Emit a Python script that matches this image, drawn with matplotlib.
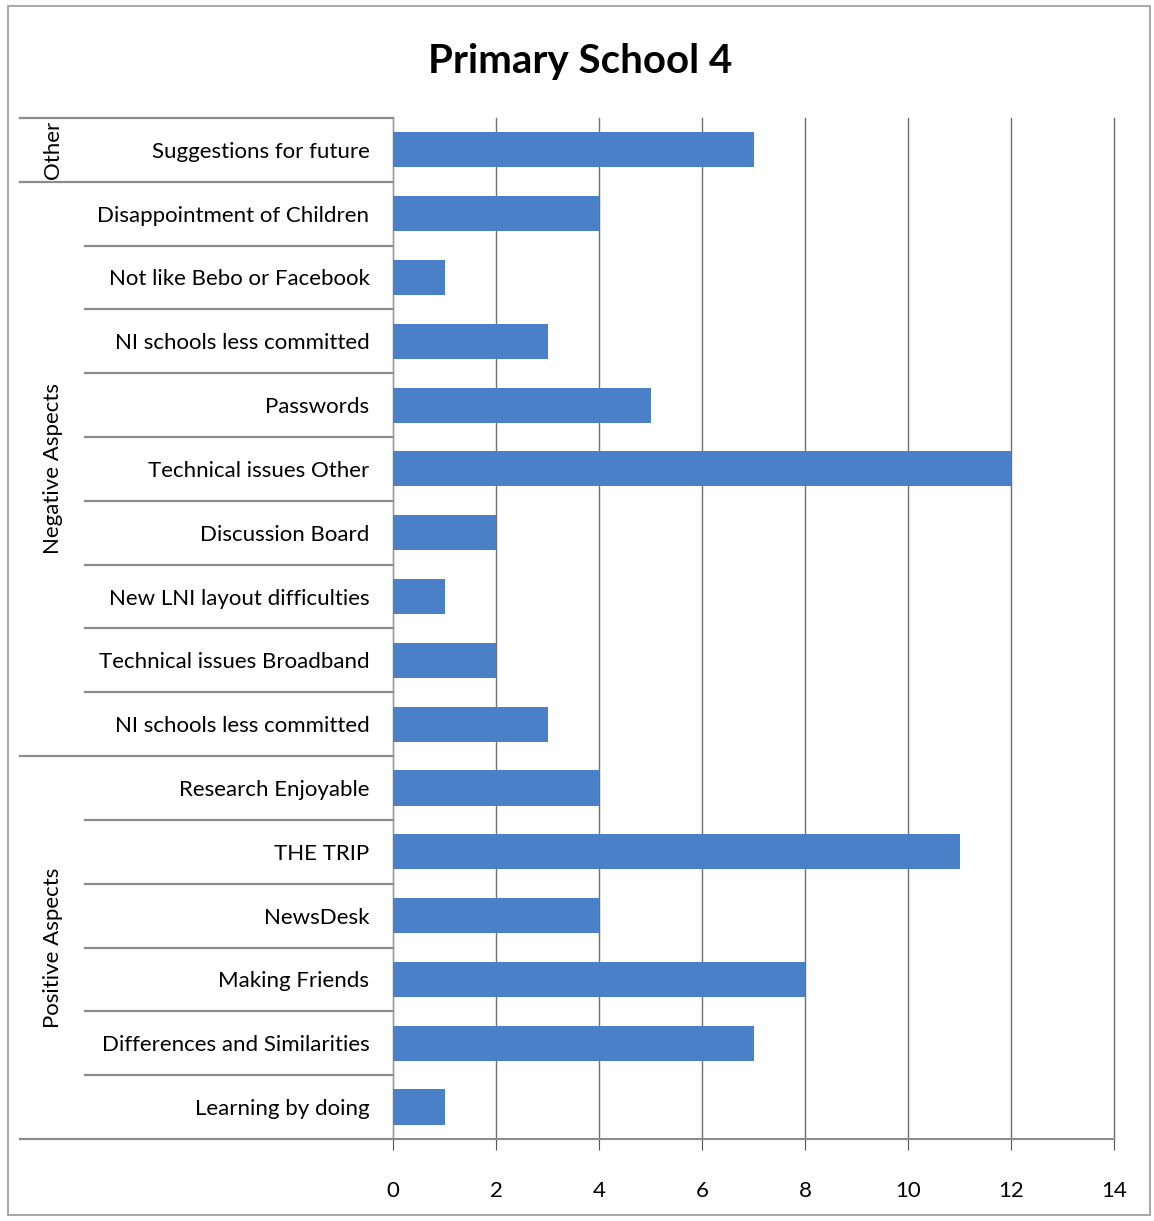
import matplotlib
matplotlib.use("Agg")
import matplotlib.pyplot as plt
import matplotlib.transforms as mtransforms
from matplotlib.patches import Rectangle

plt.rcParams["font.family"] = ["Lato", "DejaVu Sans"]

# data, top to bottom as in the chart
categories = [
    "Suggestions for future",
    "Disappointment of Children",
    "Not like Bebo or Facebook",
    "NI schools less committed",
    "Passwords",
    "Technical issues Other",
    "Discussion Board",
    "New LNI layout difficulties",
    "Technical issues Broadband",
    "NI schools less committed",
    "Research Enjoyable",
    "THE TRIP",
    "NewsDesk",
    "Making Friends",
    "Differences and Similarities",
    "Learning by doing",
]
values = [7, 4, 1, 3, 5, 12, 2, 1, 2, 3, 4, 11, 4, 8, 7, 1]
groups = ["Other", "Negative Aspects", "Positive Aspects"]
group_sizes = [1, 9, 6]
x_ticks = [0, 2, 4, 6, 8, 10, 12, 14]

bar_color = "#4a80c8"
line_color = "#8c8c8c"

fig = plt.figure(figsize=(11.54, 12.21), dpi=100)
ax = fig.add_axes([0.3406, 0.0672, 0.6248, 0.8362])

n = len(categories)
ypos = list(range(n))
ax.barh(ypos, values, height=0.55, color=bar_color, zorder=3)
ax.set_ylim(n - 0.5, -0.5)
ax.set_xlim(0, 14)
ax.set_xticks(x_ticks)
ax.set_xticklabels([str(t) for t in x_ticks], fontsize=16)
ax.set_yticks(ypos)
ax.set_yticklabels(categories, fontsize=16)
ax.tick_params(axis="y", length=0, pad=17)
ax.tick_params(axis="x", length=8, color="#555555", pad=22, direction="out")
ax.grid(axis="x", color="#707070", linewidth=1, zorder=0)
for gl in ax.xaxis.get_gridlines():
    gl.set_clip_on(False)
for s in ["top", "right"]:
    ax.spines[s].set_visible(False)
ax.spines["left"].set_color("#999999")
ax.spines["bottom"].set_color(line_color)
ax.spines["bottom"].set_linewidth(1.5)

# category separators and group labels on the left
trans = mtransforms.blended_transform_factory(ax.transAxes, ax.transData)
x_group = -0.517
x_inner = -0.427
start = -0.5
for g, size in zip(groups, group_sizes):
    end = start + size
    for k in range(1, size):
        ax.plot([x_inner, 0], [start + k] * 2, color=line_color, lw=1.6,
                transform=trans, clip_on=False)
    ax.plot([x_group, 0], [start] * 2, color=line_color, lw=1.6,
            transform=trans, clip_on=False)
    ax.text(-0.472, (start + end) / 2, g, rotation=90, ha="center", va="center",
            fontsize=16, transform=trans)
    start = end
ax.plot([x_group, 0], [start] * 2, color=line_color, lw=1.6,
        transform=trans, clip_on=False)

fig.text(0.503, 0.95, "Primary School 4", ha="center", va="center",
         fontsize=29, fontweight="bold")

# outer frame
fig.patches.append(Rectangle((8 / 1154, 6 / 1221), 1142 / 1154, 1209 / 1221,
                             transform=fig.transFigure, fill=False,
                             edgecolor="#999999", lw=1.2))

fig.savefig("out.png", dpi=100)
